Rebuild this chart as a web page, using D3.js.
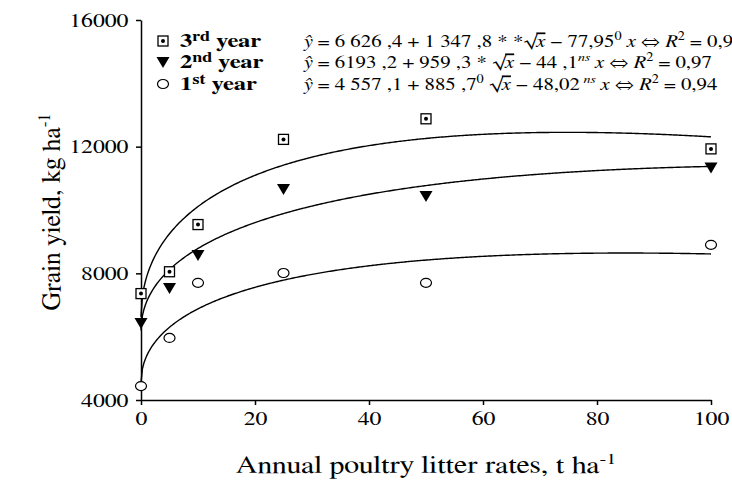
<!DOCTYPE html>
<html>
<head>
<meta charset="utf-8">
<script src="https://cdn.jsdelivr.net/npm/d3@7"></script>
</head>
<body style="margin:0;background:#fff">
<div id="chart"></div>
<script>
// data
var rates = [0, 5, 10, 25, 50, 100]
var year3 = [7360, 8050, 9540, 12230, 12880, 11930]
var year2 = [6430, 7540, 8580, 10660, 10440, 11340]
var year1 = [4440, 5960, 7700, 8010, 7700, 8900]

// regression coefficients printed in the legend: a + b*sqrt(x) + c*x
var coef3 = [6626.4, 1347.8, -77.95]
var coef2 = [6193.2, 959.3, -44.1]
var coef1 = [4557.1, 885.7, -48.02]

var xTicks = [0, 20, 40, 60, 80, 100]
var yTicks = [4000, 8000, 12000, 16000]

// equation text pieces: i = italic, s = superscript, o = overline
var eq3 = [{t:"ŷ", i:1}, {t:" = 6 626 ,4 + 1 347 ,8 * *"}, {t:"√"}, {t:"x", i:1, o:1}, {t:" − 77,95"}, {t:"0", s:1}, {t:" "}, {t:"x", i:1}, {t:" ⇔ "}, {t:"R", i:1}, {t:"2", s:1}, {t:" = 0,93"}]
var eq2 = [{t:"ŷ", i:1}, {t:" = 6193 ,2 + 959 ,3 * "}, {t:"√"}, {t:"x", i:1, o:1}, {t:" − 44 ,1"}, {t:"ns", s:1, i:1}, {t:" "}, {t:"x", i:1}, {t:" ⇔ "}, {t:"R", i:1}, {t:"2", s:1}, {t:" = 0,97"}]
var eq1 = [{t:"ŷ", i:1}, {t:" = 4 557 ,1 + 885 ,7"}, {t:"0", s:1}, {t:" √"}, {t:"x", i:1, o:1}, {t:" − 48,02"}, {t:" ns", s:1, i:1}, {t:" "}, {t:"x", i:1}, {t:" ⇔ "}, {t:"R", i:1}, {t:"2", s:1}, {t:" = 0,94"}]

var serif = "FreeSerif"
var stretch = "scale(1.25,1)"   // the original lettering is set wide
var width = 732, height = 484

var svg = d3.select("#chart").append("svg")
    .attr("width", width)
    .attr("height", height)

var x = d3.scaleLinear().domain([0, 100]).range([141, 711])
var y = d3.scaleLinear().domain([4000, 16000]).range([400, 20])

var xAxis = d3.axisBottom(x).tickValues(xTicks).tickSize(5).tickPadding(7).tickSizeOuter(0)
var yAxis = d3.axisLeft(y).tickValues(yTicks).tickFormat(d3.format("d")).tickSize(5).tickPadding(5).tickSizeOuter(0)

var gx = svg.append("g")
    .attr("transform", "translate(0," + y(4000) + ")")
    .call(xAxis)

var gy = svg.append("g")
    .attr("transform", "translate(" + x(0) + ",0)")
    .call(yAxis)

;[gx, gy].forEach(function(g){
    g.attr("font-family", null).attr("font-size", null)
    g.selectAll("text")
        .attr("transform", stretch)
        .style("font-family", serif)
        .style("font-size", "19px")
    g.selectAll("path, line")
        .attr("stroke", "#000")
        .attr("stroke-width", 1.5)
})

// fitted curves
function fit(c){
    return d3.range(0, 100.01, 0.25).map(function(v){
        return [v, c[0] + c[1] * Math.sqrt(v) + c[2] * v]
    })
}
var line = d3.line()
    .x(function(d){ return x(d[0]) })
    .y(function(d){ return y(d[1]) })

;[coef3, coef2, coef1].forEach(function(c){
    svg.append("path")
        .datum(fit(c))
        .attr("d", line)
        .attr("fill", "none")
        .attr("stroke", "#000")
        .attr("stroke-width", 1.4)
})

// marker drawers
function square(g){
    g.append("rect").attr("x", -5).attr("y", -5).attr("width", 10).attr("height", 10)
        .attr("fill", "#fff").attr("stroke", "#000").attr("stroke-width", 1.3)
    g.append("circle").attr("r", 2).attr("fill", "#000")
}
function triangle(g){
    g.append("path").attr("d", "M-6.5,-5 L6.5,-5 L0,6 Z").attr("fill", "#000")
}
function ring(g){
    g.append("ellipse").attr("rx", 5.5).attr("ry", 4.5)
        .attr("fill", "#fff").attr("stroke", "#000").attr("stroke-width", 1.2)
}

var markers = [square, triangle, ring]
var allSeries = [year3, year2, year1]

allSeries.forEach(function(vals, k){
    svg.append("g").selectAll("g")
        .data(vals)
        .enter().append("g")
        .attr("transform", function(d, i){ return "translate(" + x(rates[i]) + "," + y(d) + ")" })
        .each(function(){ markers[k](d3.select(this)) })
})

// legend
var legend = svg.append("g")
var rowY = [47, 68, 90]
var ords = [["3", "rd"], ["2", "nd"], ["1", "st"]]
var eqs = [eq3, eq2, eq1]

rowY.forEach(function(ry, k){
    markers[k](legend.append("g").attr("transform", "translate(163," + (ry - 6) + ")"))

    var t = legend.append("g")
        .attr("transform", "translate(180," + ry + ") scale(1.3,1)")
        .append("text")
        .style("font-family", serif)
        .style("font-size", "19px").style("font-weight", "bold")
    t.append("tspan").text(ords[k][0])
    t.append("tspan").attr("dy", -6).style("font-size", "14px").text(ords[k][1])
    t.append("tspan").attr("dy", 6).text(" year")

    var e = legend.append("g")
        .attr("transform", "translate(303," + ry + ") scale(1.19,1)")
        .append("text")
        .style("font-family", serif)
        .style("font-size", "17.5px")
    var up = false
    eqs[k].forEach(function(p){
        var ts = e.append("tspan").text(p.t)
        if (p.i) ts.style("font-style", "italic")
        if (p.s && !up){ ts.attr("dy", -7).style("font-size", "12px"); up = true }
        else if (p.s) ts.style("font-size", "12px")
        else if (up){ ts.attr("dy", 7); up = false }
        if (p.o) ts.style("text-decoration", "overline")
    })
})

// axis titles
var yl = svg.append("text")
    .attr("transform", "translate(60,212) rotate(-90)")
    .attr("text-anchor", "middle")
    .style("font-family", serif)
    .style("font-size", "26px")
yl.append("tspan").text("Grain yield, kg ha")
yl.append("tspan").attr("dy", -10).style("font-size", "17px").text("-1")

var xl = svg.append("g")
    .attr("transform", "translate(426,473) " + stretch)
    .append("text")
    .attr("text-anchor", "middle")
    .style("font-family", serif)
    .style("font-size", "24px")
xl.append("tspan").text("Annual poultry litter rates, t ha")
xl.append("tspan").attr("dy", -9).style("font-size", "16px").text("-1")
</script>
</body>
</html>
